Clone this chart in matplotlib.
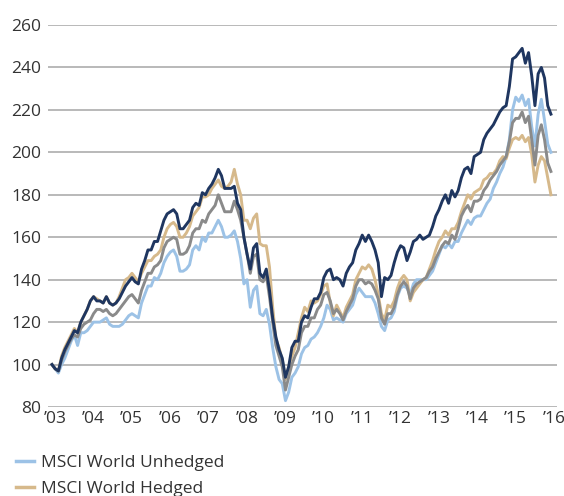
import numpy as np
import matplotlib
matplotlib.use("Agg")
import matplotlib.pyplot as plt
import matplotlib.transforms as mtransforms
from matplotlib.lines import Line2D

plt.rcParams['font.family'] = ['Open Sans', 'DejaVu Sans']

# monthly index values, Jan 2003 .. Jan 2016
navy = [100, 98, 97, 103, 107, 110, 113, 116, 115, 120, 123,
        126, 130, 132, 130, 130, 129, 132, 129, 128, 129,
        131, 134, 137, 139, 141, 139, 138, 145, 149, 154,
        154, 158, 158, 163, 168, 171, 172, 173, 171, 164,
        164, 166, 168, 174, 176, 175, 181, 180, 183, 185,
        188, 192, 189, 183, 183, 183, 184, 176, 173, 160,
        152, 145, 155, 157, 143, 141, 145, 135, 122, 113,
        107, 103, 94, 99, 108, 111, 111, 120, 123, 122,
        127, 131, 131, 134, 141, 144, 145, 140, 141, 140,
        137, 143, 146, 148, 154, 157, 161, 158, 161, 158,
        154, 148, 132, 141, 140, 142, 148, 153, 156, 155,
        149, 153, 158, 159, 161, 159, 160, 161, 165, 170,
        173, 177, 180, 176, 182, 179, 182, 188, 192, 193,
        190, 198, 199, 200, 206, 209, 211, 213, 216, 219,
        221, 222, 231, 244, 245, 247, 249, 242, 247, 236,
        222, 237, 240, 235, 222, 218]

hedged = [100, 98, 97, 104, 108, 111, 114, 117, 115, 120, 123,
          126, 130, 132, 131, 130, 129, 132, 129, 128, 129,
          132, 136, 140, 141, 143, 141, 139, 143, 146, 149,
          149, 151, 152, 154, 160, 164, 166, 167, 165, 160,
          160, 162, 165, 170, 172, 174, 179, 179, 180, 183,
          185, 187, 184, 183, 184, 186, 192, 185, 180, 168,
          168, 164, 169, 171, 157, 156, 156, 146, 127, 112,
          108, 102, 93, 99, 104, 108, 115, 122, 127, 125,
          130, 129, 130, 133, 137, 138, 129, 123, 128, 125,
          122, 127, 130, 133, 140, 143, 146, 145, 147, 145,
          140, 133, 124, 121, 128, 127, 130, 136, 140, 142,
          140, 130, 134, 136, 138, 140, 141, 145, 149, 154,
          158, 160, 163, 161, 164, 164, 167, 172, 176, 180,
          178, 181, 182, 183, 187, 188, 190, 190, 192, 196,
          198, 197, 202, 206, 207, 206, 208, 205, 207, 199,
          186, 194, 198, 196, 188, 180]

grey = [100, 98, 97, 102, 106, 109, 112, 114, 113, 117, 119,
        120, 121, 124, 126, 126, 125, 126, 124, 123, 124,
        126, 128, 130, 132, 133, 131, 129, 135, 139, 143,
        143, 146, 147, 149, 155, 158, 159, 160, 159, 152,
        152, 153, 156, 162, 164, 164, 168, 167, 171, 173,
        175, 180, 176, 172, 172, 172, 177, 173, 168, 160,
        152, 143, 151, 152, 140, 139, 142, 132, 120, 109,
        104, 99, 88, 94, 100, 104, 107, 115, 118, 118,
        122, 122, 126, 128, 133, 134, 130, 124, 126, 124,
        121, 125, 128, 131, 137, 140, 140, 138, 139, 138,
        135, 131, 122, 119, 124, 124, 127, 133, 137, 139,
        137, 131, 136, 138, 139, 140, 141, 144, 146, 150,
        153, 156, 158, 157, 161, 159, 164, 170, 173, 175,
        172, 177, 177, 178, 182, 184, 187, 189, 191, 194,
        196, 198, 205, 214, 216, 216, 219, 214, 217, 206,
        194, 208, 213, 206, 195, 191]

unhedged = [100, 98, 96, 100, 103, 107, 111, 114, 109, 115, 115,
            116, 118, 120, 120, 120, 121, 122, 119, 118, 118,
            118, 119, 121, 123, 124, 123, 122, 129, 133, 137,
            137, 141, 140, 143, 148, 151, 153, 154, 151, 144,
            144, 145, 147, 154, 156, 154, 160, 158, 162, 162,
            165, 168, 165, 160, 160, 161, 163, 158, 150, 138,
            140, 127, 135, 137, 124, 123, 126, 119, 108, 99,
            93, 91, 83, 87, 94, 96, 99, 105, 108, 109,
            112, 113, 115, 118, 122, 128, 126, 121, 122, 121,
            120, 124, 126, 128, 133, 136, 134, 132, 132, 132,
            129, 124, 118, 116, 121, 122, 125, 132, 136, 137,
            136, 133, 138, 140, 140, 140, 140, 142, 144, 148,
            152, 156, 155, 157, 155, 158, 158, 162, 165, 168,
            166, 169, 170, 170, 173, 176, 178, 183, 186, 190,
            193, 198, 206, 220, 226, 224, 227, 222, 225, 212,
            203, 218, 225, 215, 204, 200]

year_labels = ["\u201903", "\u201904", "\u201905", "\u201906", "\u201907", "\u201908", "\u201909",
               "\u201910", "\u201911", "\u201912", "\u201913", "\u201914", "\u201915", "\u201916"]

c_navy = '#1f3660'
c_unh = '#9cc2e6'
c_hed = '#d6b98b'
c_grey = '#8a8a8a'

fig = plt.figure(figsize=(5.64, 4.96), dpi=100)
ax = fig.add_axes([0.0851, 0.1794, 0.9025, 0.7702])

m = np.arange(len(navy))
ax.plot(m, unhedged, color=c_unh, lw=2.1, solid_joinstyle='round')
ax.plot(m, hedged, color=c_hed, lw=2.1, solid_joinstyle='round')
ax.plot(m, grey, color=c_grey, lw=2.1, solid_joinstyle='round')
ax.plot(m, navy, color=c_navy, lw=2.1, solid_joinstyle='round')

ax.set_ylim(80, 260)
ax.set_yticks(np.arange(80, 261, 20))
ax.set_xlim(-1.25, 157.9)
ax.set_xticks(np.arange(0, 12 * len(year_labels), 12))
ax.set_xticklabels(year_labels)

ax.grid(axis='y', color='#a6a6a6', lw=1.1)
ax.set_axisbelow(True)
for s in ax.spines.values():
    s.set_visible(False)
ax.tick_params(axis='both', length=0, labelsize=12.5, colors='#333333')
ax.tick_params(axis='y', pad=5)
ax.tick_params(axis='x', pad=3)
off = mtransforms.ScaledTranslation(3 / 100, 0, fig.dpi_scale_trans)
for lab in ax.get_xticklabels():
    lab.set_transform(lab.get_transform() + off)

handles = [Line2D([], [], color=c_unh, lw=2.5),
           Line2D([], [], color=c_hed, lw=2.5)]
fig.legend(handles, ["MSCI World Unhedged", "MSCI World Hedged"],
           loc='upper left', bbox_to_anchor=(0.028, 0.083), frameon=False,
           fontsize=12.5, handlelength=1.05, handletextpad=0.4,
           labelspacing=0.55, borderaxespad=0, borderpad=0,
           labelcolor='#333333')

fig.savefig("out.png", dpi=100)
